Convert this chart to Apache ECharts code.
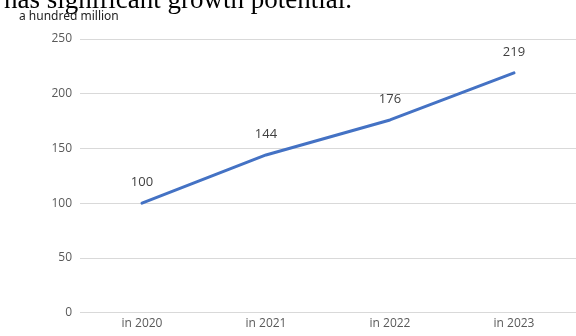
<!DOCTYPE html>
<html>
<head>
<meta charset="utf-8">
<script src="https://cdn.jsdelivr.net/npm/echarts@6/dist/echarts.min.js"></script>
<style>
  html, body { margin: 0; padding: 0; background: #fff; }
  #chart { width: 576px; height: 336px; }
</style>
</head>
<body>
<div id="chart"></div>
<script>
  var years = ['in 2020', 'in 2021', 'in 2022', 'in 2023']
  var revenue = [100, 144, 176, 219]
  var yTicks = [0, 50, 100, 150, 200, 250]

  var chart = echarts.init(document.getElementById('chart'))
  chart.setOption({
    backgroundColor: '#fff',
    animation: false,
    title: [
      {
        text: 'has significant growth potential.',
        left: -1,
        top: -18,
        textStyle: {
          fontFamily: 'Liberation Serif',
          fontWeight: 'normal',
          fontSize: 27,
          color: '#000'
        }
      },
      {
        text: 'a hundred million',
        left: 14,
        top: 6,
        textStyle: {
          fontFamily: 'Noto Sans',
          fontWeight: 'normal',
          fontSize: 12,
          color: '#222'
        }
      }
    ],
    grid: {
      left: 80,
      right: 0,
      top: 39,
      bottom: 23.5,
      containLabel: false
    },
    xAxis: {
      type: 'category',
      data: years,
      boundaryGap: true,
      axisLine: { show: false },
      axisTick: { show: false },
      axisLabel: {
        margin: 5,
        color: '#595959',
        fontFamily: 'Open Sans',
        fontSize: 12
      }
    },
    yAxis: {
      type: 'value',
      min: yTicks[0],
      max: yTicks[yTicks.length - 1],
      interval: 50,
      axisLine: { show: false },
      axisTick: { show: false },
      axisLabel: {
        margin: 8,
        color: '#595959',
        fontFamily: 'Open Sans',
        fontSize: 12
      },
      splitLine: {
        lineStyle: { color: '#d9d9d9', width: 1 }
      }
    },
    series: [{
      type: 'line',
      data: revenue,
      showSymbol: true,
      symbol: 'circle',
      symbolSize: 1,
      itemStyle: { color: '#4472C4' },
      lineStyle: { color: '#4472C4', width: 3, cap: 'round' },
      label: {
        show: true,
        position: 'top',
        distance: 14,
        color: '#404040',
        fontFamily: 'Open Sans',
        fontSize: 13
      }
    }]
  })
</script>
</body>
</html>
